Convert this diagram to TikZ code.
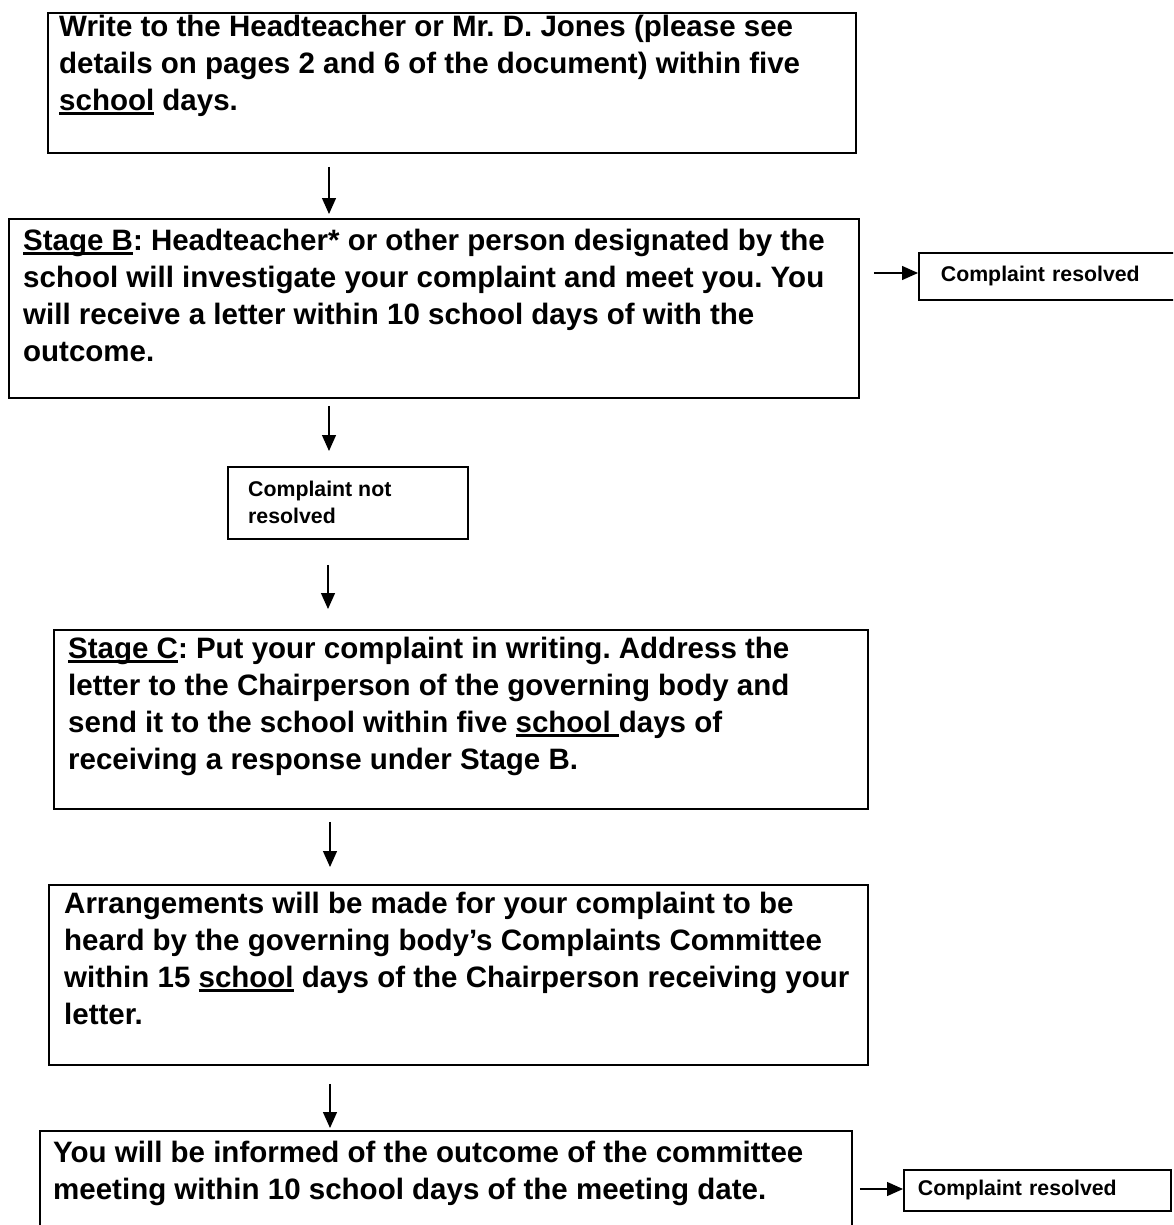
\documentclass[tikz,border=0pt]{standalone}
\usepackage{fontspec}
\setmainfont{Liberation Sans}
\usetikzlibrary{arrows.meta}
\newcommand\myul[1]{\setbox0\hbox{#1}\rlap{\rule[-4.5pt]{\wd0}{2.4pt}}\box0\relax}
\newcommand\topstrut[1]{\rule{0pt}{#1}}
\frenchspacing
\begin{document}
\begin{tikzpicture}[x=1pt,y=-1pt,
  box/.style={draw, line width=1.8pt, anchor=north west, inner sep=0pt},
  big/.style={anchor=north west, inner sep=0pt, align=left,
    font=\bfseries\frenchspacing\fontsize{29.5}{37}\selectfont},
  small/.style={font=\bfseries\fontsize{21.3}{27}\selectfont},
  smalltext/.style={small, anchor=north west, inner sep=0pt, align=left},
  resbox/.style={box, small, align=left, inner ysep=0pt},
  arr/.style={line width=1.3pt, -{Triangle[length=16pt,width=14pt]}}
]
\clip (0,0) rectangle (1173,1225);
\fill[white] (0,0) rectangle (1173,1225);

% boxes
\node[box, minimum width=808pt, minimum height=140pt] (a) at (47,12) {};
\node[big] (ta) at (59,11) {\topstrut{25pt}Write to the Headteacher or Mr. D. Jones (please see\\
details on pages 2 and 6 of the document) within five\\
\myul{school} days.};

\node[box, minimum width=850pt, minimum height=179pt] (b) at (8,218) {};
\node[big] (tb) at (23,225) {\topstrut{25pt}\myul{Stage B}: Headteacher* or other person designated by the\\
school will investigate your complaint and meet you. You\\
will receive a letter within 10 school days of with the\\
outcome.};

\node[resbox, text width=218pt, inner xsep=22pt, minimum height=47pt] (cr1) at (918,252) {Complaint resolved};

\node[box, minimum width=240pt, minimum height=72pt] (nr) at (227,466) {};
\node[smalltext] (tnr) at (248,477) {\topstrut{19pt}Complaint not\\resolved};

\node[box, minimum width=814pt, minimum height=179pt] (c) at (53,629) {};
\node[big] (tc) at (68,633) {\topstrut{25pt}\myul{Stage C}: Put your complaint in writing. Address the\\
letter to the Chairperson of the governing body and\\
send it to the school within five \myul{school }days of\\
receiving a response under Stage B.};

\node[box, minimum width=819pt, minimum height=180pt] (d) at (48,884) {};
\node[big] (td) at (64,888) {\topstrut{25pt}Arrangements will be made for your complaint to be\\
heard by the governing body’s Complaints Committee\\
within 15 \myul{school} days of the Chairperson receiving your\\
letter.};

\node[box, minimum width=812pt, minimum height=150pt] (e) at (39,1130) {};
\node[big] (te) at (53,1137) {\topstrut{25pt}You will be informed of the outcome of the committee\\
meeting within 10 school days of the meeting date.};

\node[resbox, text width=239pt, inner xsep=14pt, minimum height=41pt] (cr2) at (903,1169) {Complaint resolved};

% connectors
\coordinate (x1) at (329,0);
\coordinate (x2) at (329,0);
\coordinate (x3) at (328,0);
\coordinate (x4) at (330,0);
\coordinate (x5) at (330,0);
\coordinate (y1) at (0,273);
\coordinate (y2) at (0,1189);

\draw[arr, shorten <=13pt, shorten >=4pt] (a.south -| x1) -- (b.north -| x1);
\draw[arr, shorten <=7pt, shorten >=15pt] (b.south -| x2) -- (nr.north -| x2);
\draw[arr, shorten <=25pt, shorten >=20pt] (nr.south -| x3) -- (c.north -| x3);
\draw[arr, shorten <=12pt, shorten >=17pt] (c.south -| x4) -- (d.north -| x4);
\draw[arr, shorten <=18pt, shorten >=2pt] (d.south -| x5) -- (e.north -| x5);
\draw[arr, shorten <=14pt] (b.east |- y1) -- (cr1.west |- y1);
\draw[arr, shorten <=7pt] (e.east |- y2) -- (cr2.west |- y2);
\end{tikzpicture}
\end{document}
